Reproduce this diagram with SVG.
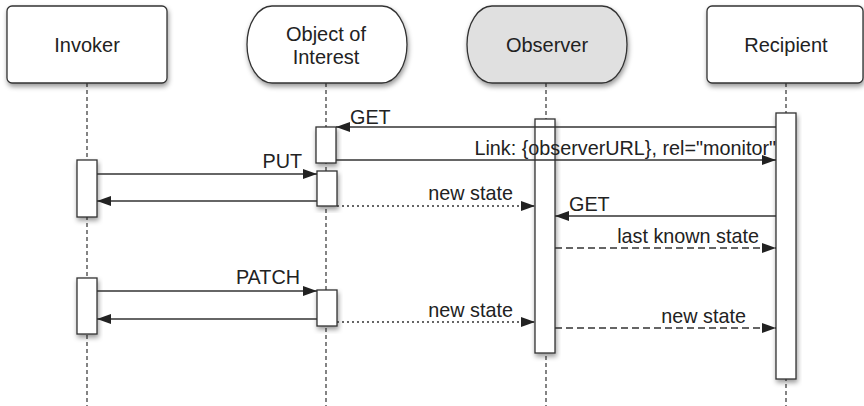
<svg xmlns="http://www.w3.org/2000/svg" width="864" height="406" viewBox="0 0 864 406">
<defs>
<filter id="sh" x="-30%" y="-10%" width="160%" height="130%">
<feDropShadow dx="1" dy="3" stdDeviation="2.5" flood-color="#000" flood-opacity="0.4"/>
</filter>
<marker id="ah" markerUnits="userSpaceOnUse" markerWidth="15" markerHeight="11" refX="14" refY="5" orient="auto">
<path d="M0,0 L14,5 L0,10 z" fill="#222"/>
</marker>
</defs>
<style>
text{font-family:"Liberation Sans",Arial,Helvetica,sans-serif;fill:#222;font-size:20px}
.nt{text-anchor:middle}
.ml{font-size:19.8px}
.end{text-anchor:end}
.box{fill:#fff;stroke:#333;stroke-width:1.3;filter:url(#sh)}
.obs{fill:#e0e0e0}
.life{stroke:#333;stroke-width:1.2;stroke-dasharray:4,3;fill:none}
.msg{stroke:#333;stroke-width:1.3;fill:none;marker-end:url(#ah)}
.dot{stroke-dasharray:2,3}
.dash{stroke-dasharray:7,4}
.act{fill:#fff;stroke:#333;stroke-width:1.3;filter:url(#sh)}
</style>
<g id="lifelines">
<line class="life" x1="87" y1="83" x2="87" y2="406"/>
<line class="life" x1="326" y1="83" x2="326" y2="406"/>
<line class="life" x1="546" y1="83" x2="546" y2="406"/>
<line class="life" x1="786" y1="83" x2="786" y2="406"/>
</g>
<g id="invoker">
<rect class="box" x="7" y="6" width="160" height="77" rx="5"/>
<text class="nt" x="87" y="52">Invoker</text>
</g>
<g id="object">
<rect class="box" x="247" y="6" width="160" height="77" rx="25" ry="38.5"/>
<text class="nt" x="326" y="41">Object of</text>
<text class="nt" x="326" y="64">Interest</text>
</g>
<g id="observer">
<rect class="box obs" x="467" y="6" width="160" height="77" rx="25" ry="38.5"/>
<text class="nt" x="547" y="52">Observer</text>
</g>
<g id="recipient">
<rect class="box" x="707" y="6" width="156" height="77" rx="5"/>
<text class="nt" x="786" y="52">Recipient</text>
</g>
<g id="activations">
<rect class="act" x="77" y="160" width="20" height="57"/>
<rect class="act" x="77" y="278" width="20" height="56"/>
<rect class="act" x="316" y="127" width="20" height="36"/>
<rect class="act" x="317" y="171" width="20" height="35"/>
<rect class="act" x="317" y="290" width="20" height="36"/>
<rect class="act" x="535" y="119" width="20" height="234"/>
<rect class="act" x="776" y="113" width="20" height="266"/>
</g>
<g id="connectors">
<line class="msg" x1="776" y1="127" x2="336" y2="127"/>
<text class="ml" x="350" y="124">GET</text>
<line class="msg" x1="336" y1="160" x2="776" y2="160"/>
<text class="ml end" x="776" y="155">Link: {observerURL}, rel="monitor"</text>
<line class="msg" x1="97" y1="174" x2="317" y2="174"/>
<text class="ml end" x="302" y="168">PUT</text>
<line class="msg" x1="317" y1="201" x2="97" y2="201"/>
<line class="msg dot" x1="337" y1="206" x2="535" y2="206"/>
<text class="ml end" x="513" y="200">new state</text>
<line class="msg" x1="776" y1="216" x2="555" y2="216"/>
<text class="ml" x="569" y="211">GET</text>
<line class="msg dash" x1="555" y1="248" x2="776" y2="248"/>
<text class="ml end" x="759" y="243">last known state</text>
<line class="msg" x1="97" y1="291" x2="317" y2="291"/>
<text class="ml end" x="300" y="284">PATCH</text>
<line class="msg" x1="317" y1="319" x2="97" y2="319"/>
<line class="msg dot" x1="337" y1="322" x2="535" y2="322"/>
<text class="ml end" x="513" y="317">new state</text>
<line class="msg dash" x1="555" y1="328" x2="776" y2="328"/>
<text class="ml end" x="746" y="323">new state</text>
</g>
</svg>
